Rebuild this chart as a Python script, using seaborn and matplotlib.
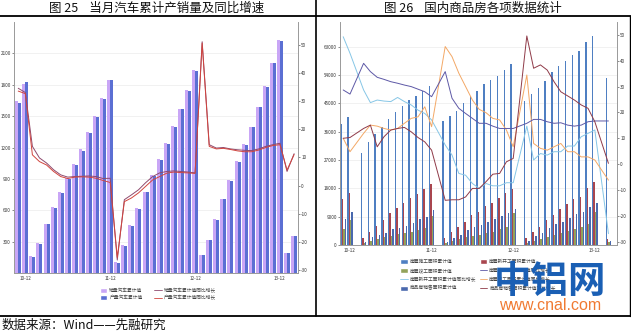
import numpy as np
import pandas as pd
import matplotlib
matplotlib.use("Agg")
import matplotlib.pyplot as plt
import seaborn as sns
from matplotlib.lines import Line2D
from matplotlib.patches import Patch

sns.set_theme(style="white")
plt.rcParams['font.family'] = ['Noto Sans CJK SC', 'DejaVu Sans']
plt.rcParams['axes.unicode_minus'] = False

# ---------------- Left chart data (汽车) ----------------
car_months = ['10-11', '10-12'] + [f'{y}-{m:02d}' for y in (11, 12, 13) for m in range(1, 13)] + ['14-01', '14-02']
car_sales = [1640, 1805, 159, 287, 471, 630, 774, 907, 1044, 1184, 1352, 1502, 1677, 1849,
             105, 264, 455, 621, 779, 939, 1088, 1242, 1406, 1572, 1750, 1938,
             172, 316, 514, 712, 889, 1071, 1230, 1398, 1590, 1786, 2010, 2225, 195, 354]
car_prod = [1630, 1830, 149, 280, 468, 621, 764, 901, 1034, 1171, 1337, 1490, 1665, 1843,
            98, 258, 445, 611, 770, 932, 1082, 1235, 1400, 1566, 1744, 1932,
            168, 311, 509, 707, 884, 1066, 1225, 1394, 1585, 1782, 2006, 2221, 191, 350]
car_sales_yoy = [34.5, 33.0, 13.9, 9.8, 8.0, 5.6, 3.8, 3.0, 3.2, 3.3, 3.4, 3.2, 2.5, 2.6,
                 -26.4, -5.0, -3.3, -1.5, 1.0, 3.2, 4.5, 5.0, 5.2, 5.0, 4.8, 4.5,
                 51.0, 14.5, 13.3, 13.5, 13.0, 12.7, 12.5, 12.4, 13.0, 13.9, 14.5, 15.0, 5.0, 11.3]
car_prod_yoy = [33.5, 32.6, 10.9, 8.5, 7.3, 5.0, 3.2, 2.5, 3.0, 3.1, 3.0, 2.6, 1.8, 1.1,
                -25.5, -5.7, -4.4, -2.6, -0.3, 2.0, 3.2, 4.4, 4.8, 4.6, 4.5, 4.3,
                50.5, 13.9, 13.0, 13.2, 12.8, 12.3, 12.0, 12.0, 12.6, 13.5, 14.2, 14.5, 5.5, 11.0]
car_xticklabels = ['10-12', '11-12', '12-12', '13-12']
car_left_ticks = [300, 600, 900, 1200, 1500, 1800, 2100]
right_ticks = [-30, -20, -10, 0, 10, 20, 30, 40, 50]

# ---------------- Right chart data (商品房) ----------------
house_months = ['10-11', '10-12'] + [f'{y}-{m:02d}' for y in (11, 12, 13) for m in range(2, 13)] + ['14-02']
build_area = [38350, 40570,
              29130, 32620, 35160, 37590, 40030, 42250, 44160, 46070, 47340, 48930, 50620,
              39400, 40890, 42680, 45110, 47340, 49030, 51150, 52420, 53690, 55600, 57400,
              45750, 47970, 49980, 52200, 54860, 56960, 58460, 60360, 61630, 64490, 66400,
              52960]
new_area = [14520, 16620,
            2130, 4230, 6040, 7940, 10070, 11660, 13440, 14840, 16110, 17700, 19380,
            2130, 4230, 5720, 7300, 9430, 10580, 12390, 13440, 14840, 16430, 17790,
            2320, 4130, 5620, 7940, 9630, 11440, 12930, 14520, 15350, 18200, 20110,
            1810]
done_area = [4990, 7940,
             730, 1270, 2000, 2440, 2860, 3490, 3700, 4130, 4770, 5300, 9210,
             730, 1270, 1900, 2440, 2860, 3180, 3700, 4240, 4990, 5620, 10070,
             730, 1380, 2000, 2650, 3180, 3700, 4450, 4990, 5830, 6680, 10390,
             1060]
sold_area = [8260, 10580,
             1060, 2440, 3170, 3700, 4990, 5300, 6040, 7090, 8150, 8790, 11120,
             1060, 2130, 3170, 4770, 5620, 6360, 7410, 8260, 9210, 10070, 11330,
             1380, 2860, 3900, 5300, 6680, 7410, 8470, 9740, 10580, 12170, 13440,
             1380]
new_yoy = [49.3, 42.9,
           28.7, 23.8, 24.8, 24.4, 24.2, 25.8, 24.2, 22.9, 20.9, 19.6, 17.1,
           7.4, 3.5, -3.6, -4.3, -7.5, -9.4, -7.5, -8.4, -8.4, -7.2, -7.2,
           14.7, 1.6, 4.1, 3.5, 4.8, 4.8, 7.0, 7.0, 10.6, 11.9, 13.2,
           -26.9]
build_yoy = [28.7, 27.1,
             39.0, 35.8, 33.6, 32.8, 31.9, 31.3, 30.6, 30.0, 29.0, 28.0, 26.1,
             35.8, 25.5, 21.6, 19.6, 17.7, 15.8, 15.8, 14.7, 13.8, 13.8, 13.8,
             15.8, 17.3, 17.3, 16.4, 15.8, 16.0, 15.1, 14.7, 15.1, 16.4, 16.7,
             16.7]
done_yoy = [10.0, 4.8,
            11.9, 15.1, 14.7, 13.8, 13.2, 13.8, 15.8, 17.7, 18.3, 22.2, 14.5,
            45.5, 41.6, 35.2, 30.0, 24.8, 21.2, 19.9, 17.7, 17.1, 13.2, 6.7,
            34.5, 8.0, 6.1, 5.4, 6.7, 8.0, 4.8, 4.8, 2.8, 2.8, 1.6,
            -6.2]
sold_yoy = [10.0, 10.3,
            13.8, 15.1, 6.7, 10.6, 13.2, 13.8, 14.2, 12.5, 10.3, 8.6, 5.4,
            -14.0, -13.8, -13.8, -12.7, -9.4, -9.4, -6.8, -3.9, -3.6, 0.9, 2.2,
            49.6, 37.1, 38.4, 36.4, 31.9, 28.0, 26.4, 24.8, 22.9, 21.6, 16.4,
            0.3]
house_left_ticks = [0, 9000, 18000, 27000, 36000, 45000, 54000, 63000]


def month_pos(label):
    y, m = label.split('-')
    return (int(y) - 10) * 12 + int(m) - 11


W, H = 631, 335
fig = plt.figure(figsize=(W / 100, H / 100), dpi=100)
fig.patch.set_facecolor('white')


def fx(x):
    return x / W


def fy(y):
    return 1 - y / H


def style_axes(ax, ax2):
    for a in (ax, ax2):
        a.set_facecolor('none')
        for s in a.spines.values():
            s.set_color('#9a9a9a')
            s.set_linewidth(0.6)
        a.spines['top'].set_visible(False)
    ax.tick_params(axis='both', labelsize=3.3, colors='#333333', length=1.5, width=0.4, pad=0.8)
    ax2.tick_params(axis='y', labelsize=3.3, colors='#333333', length=1.5, width=0.4, pad=0.8)
    ax.grid(axis='y', color='#ececec', linewidth=0.5)
    ax.set_axisbelow(True)
    ax.set_xlabel('')
    ax.set_ylabel('')
    ax2.set_xlabel('')
    ax2.set_ylabel('')


# ---------------- Left chart ----------------
axL = fig.add_axes([fx(14), fy(273), fx(298) - fx(14), (273 - 22) / H])
car_pos = [month_pos(m) for m in car_months]
car_df = pd.DataFrame({'pos': car_pos, '销量汽车累计值': car_sales, '产量汽车累计值': car_prod})
car_long = car_df.melt(id_vars='pos', var_name='series', value_name='val')
car_colors = ['#c9a6f6', '#5b6fd3']
sns.barplot(data=car_long, x='pos', y='val', hue='series',
            hue_order=['销量汽车累计值', '产量汽车累计值'], palette=car_colors,
            native_scale=True, width=0.85, saturation=1, errorbar=None,
            legend=False, ax=axL, linewidth=0)
axL2 = axL.twinx()
sns.lineplot(x=car_pos, y=car_sales_yoy, color='#8e4a6e', linewidth=0.7, ax=axL2)
sns.lineplot(x=car_pos, y=car_prod_yoy, color='#d1453e', linewidth=0.7, ax=axL2)
axL.set_xlim(-0.6, 39.55)
axL.set_ylim(0, 2400)
axL.set_yticks(car_left_ticks)
axL.set_yticklabels([str(t) for t in car_left_ticks])
axL.set_xticks([1, 13, 25, 37])
axL.set_xticklabels(car_xticklabels)
axL2.set_ylim(-31, 58)
axL2.set_yticks(right_ticks)
axL2.set_yticklabels([str(t) for t in right_ticks])
style_axes(axL, axL2)

# ---------------- Right chart ----------------
axR = fig.add_axes([fx(340), fy(245), fx(617) - fx(340), (245 - 22) / H])
house_pos = [month_pos(m) for m in house_months]
house_df = pd.DataFrame({'pos': house_pos,
                         '房屋施工面积累计值': build_area,
                         '房屋新开工面积累计值': new_area,
                         '房屋竣工面积累计值': done_area,
                         '商品房销售面积累计值': sold_area})
house_long = house_df.melt(id_vars='pos', var_name='series', value_name='val')
bar_order = ['房屋施工面积累计值', '房屋新开工面积累计值', '房屋竣工面积累计值', '商品房销售面积累计值']
bar_colors = ['#4f7fc2', '#a9464f', '#93a35a', '#4a69ae']
sns.barplot(data=house_long, x='pos', y='val', hue='series', hue_order=bar_order,
            palette=bar_colors, native_scale=True, width=0.85, saturation=1,
            errorbar=None, legend=False, ax=axR, linewidth=0)
axR2 = axR.twinx()
line_cols = {'new': '#86c6e6', 'build': '#5d58a6', 'done': '#f3a866', 'sold': '#8f3a48'}
sns.lineplot(x=house_pos, y=new_yoy, color=line_cols['new'], linewidth=0.7, ax=axR2)
sns.lineplot(x=house_pos, y=done_yoy, color=line_cols['done'], linewidth=0.7, ax=axR2)
sns.lineplot(x=house_pos, y=build_yoy, color=line_cols['build'], linewidth=0.7, ax=axR2)
sns.lineplot(x=house_pos, y=sold_yoy, color=line_cols['sold'], linewidth=0.7, ax=axR2)
axR.set_xlim(-0.47, 40.26)
axR.set_ylim(0, 70800)
axR.set_yticks(house_left_ticks)
axR.set_yticklabels([str(t) for t in house_left_ticks])
axR.set_xticks([1, 13, 25, 37])
axR.set_xticklabels(car_xticklabels)
axR2.set_ylim(-31.3, 55)
axR2.set_yticks(right_ticks)
axR2.set_yticklabels([str(t) for t in right_ticks])
style_axes(axR, axR2)

# ---------------- Legends ----------------
hL = [Patch(facecolor=car_colors[0]), Patch(facecolor=car_colors[1]),
      Line2D([], [], color='#8e4a6e', lw=0.6), Line2D([], [], color='#d1453e', lw=0.6)]
lL = ['销量汽车累计值', '产量汽车累计值', '销量汽车累计值同比增长', '产量汽车累计值同比增长']
fig.legend(hL, lL, loc='center', bbox_to_anchor=(fx(158), fy(294)), ncol=2,
           fontsize=3.4, frameon=False, handlelength=1.6, handleheight=1.2,
           columnspacing=2.5, labelspacing=0.5, handletextpad=0.4, labelcolor='#444444')

hR = [Patch(facecolor=bar_colors[0]), Patch(facecolor=bar_colors[2]),
      Line2D([], [], color=line_cols['new'], lw=0.6), Patch(facecolor=bar_colors[3]),
      Patch(facecolor=bar_colors[1]), Line2D([], [], color=line_cols['build'], lw=0.6),
      Line2D([], [], color=line_cols['done'], lw=0.6), Line2D([], [], color=line_cols['sold'], lw=0.6)]
lR = ['房屋施工面积累计值', '房屋竣工面积累计值', '房屋新开工面积累计值同比增长', '商品房销售面积累计值',
      '房屋新开工面积累计值', '房屋施工面积累计值同比增长', '房屋竣工面积累计值同比增长', '商品房销售面积累计值同比增长']
fig.legend(hR, lR, loc='center', bbox_to_anchor=(fx(478), fy(275)), ncol=2,
           fontsize=3.4, frameon=False, handlelength=1.6, handleheight=1.2,
           columnspacing=0.8, labelspacing=0.8, handletextpad=0.4, labelcolor='#444444')

# ---------------- Titles, frame, source ----------------
fig.text(fx(157), fy(8), '图 25    当月汽车累计产销量及同比增速', ha='center', va='center',
         fontsize=9, color='#111111')
fig.text(fx(473), fy(8), '图 26    国内商品房各项数据统计', ha='center', va='center',
         fontsize=9, color='#111111')
fig.text(fx(2), fy(325), '数据来源：Wind——先融研究', ha='left', va='center',
         fontsize=9, color='#111111')

fig.add_artist(Line2D([0, 1], [fy(16), fy(16)], color='black', lw=1.3, transform=fig.transFigure))
fig.add_artist(Line2D([0, 1], [fy(316), fy(316)], color='black', lw=1.3, transform=fig.transFigure))
fig.add_artist(Line2D([fx(315.5), fx(315.5)], [fy(0), fy(316)], color='black', lw=1.2,
                      transform=fig.transFigure))
fig.add_artist(Line2D([fx(629.5), fx(629.5)], [fy(16), fy(316)], color='black', lw=1.0,
                      transform=fig.transFigure))

# watermark
fig.text(fx(550), fy(281), '中铝网', ha='center', va='center', fontsize=27,
         fontweight='heavy', color='#1a5fb4', zorder=10)
fig.text(fx(550), fy(306), 'www.cnal.com', ha='center', va='center', fontsize=11.5,
         family=['Liberation Sans', 'DejaVu Sans'], color='#f07a32', zorder=10)

fig.savefig('out.png', dpi=100, facecolor='white')
